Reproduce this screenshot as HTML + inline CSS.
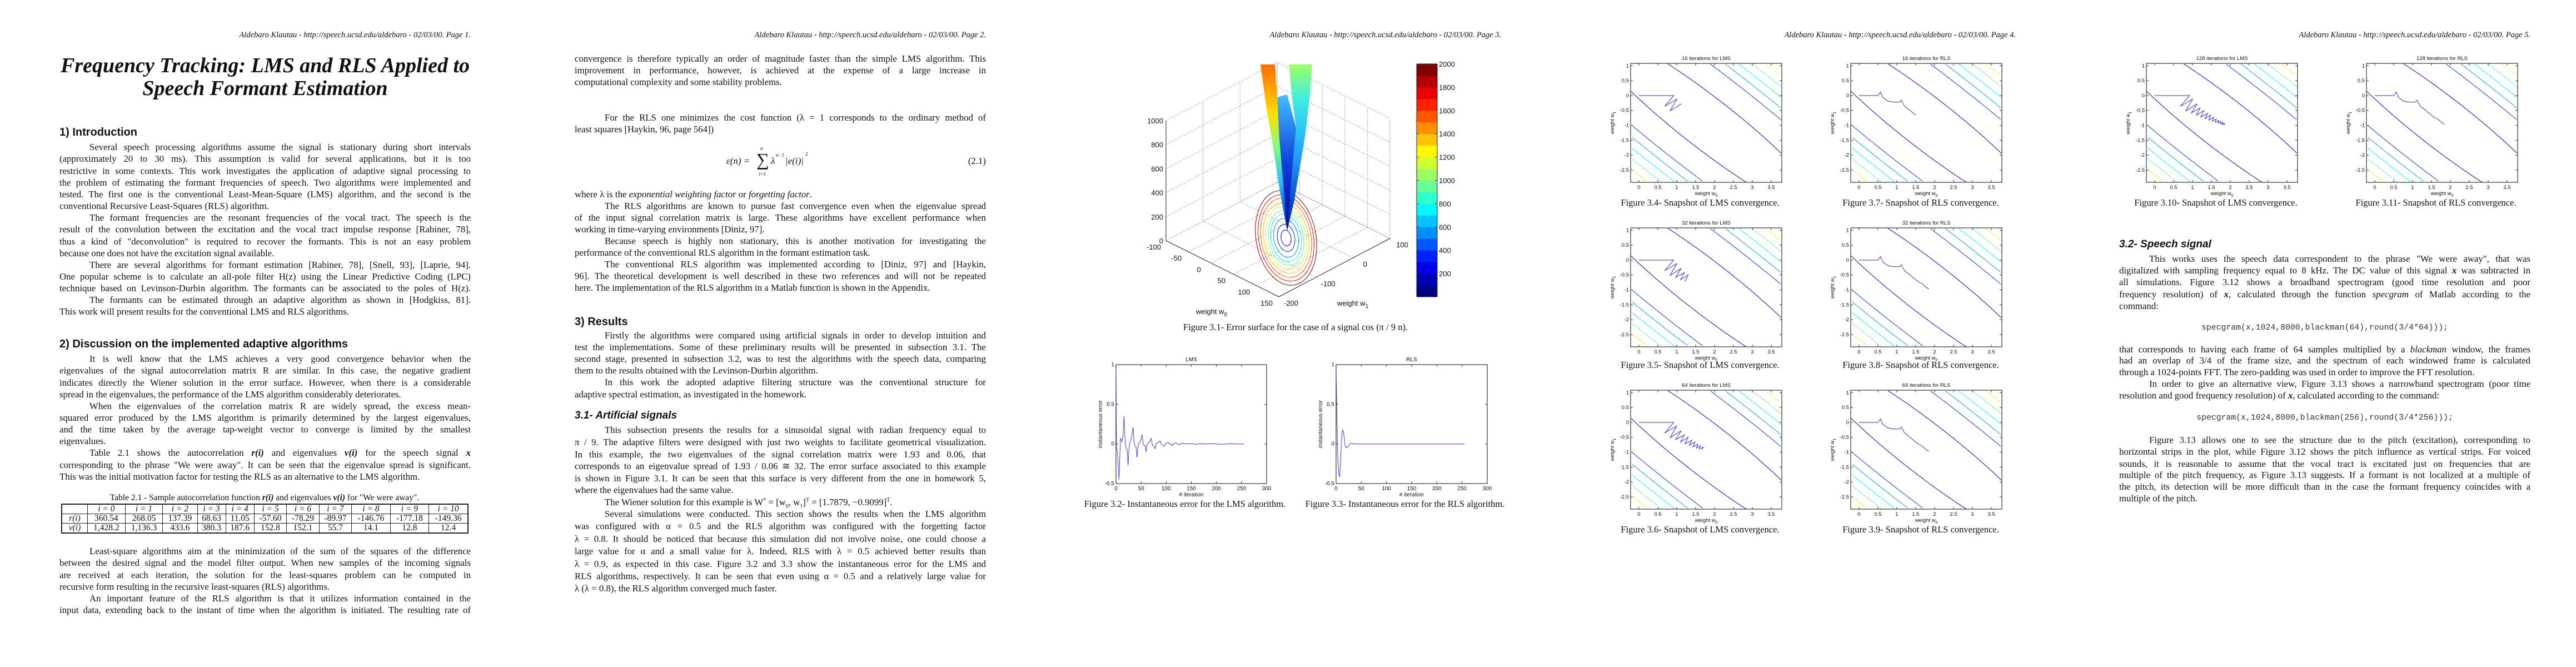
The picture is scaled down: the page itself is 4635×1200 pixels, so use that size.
<!DOCTYPE html>
<html><head><meta charset="utf-8">
<style>
html,body{margin:0;padding:0;background:#fff;width:4635px;height:1200px;overflow:hidden;}
#root{position:relative;width:4635px;height:1200px;overflow:hidden;background:#fff;color:#111;}
.pg{position:absolute;top:0;width:927px;height:1200px;overflow:hidden;}
.l{position:absolute;left:107px;width:740px;height:21px;line-height:21px;font-family:"Liberation Serif",serif;font-size:16.8px;white-space:nowrap;text-align:justify;text-align-last:justify;}
.i{left:161px;width:686px;}
.e{text-align-last:left;}
.h{position:absolute;left:107px;font-family:"Liberation Sans",sans-serif;font-weight:bold;font-size:20px;line-height:24px;white-space:nowrap;}
.hi{font-style:italic;font-size:19px;}
.hdr{position:absolute;right:80px;top:54px;font-family:"Liberation Serif",serif;font-style:italic;font-size:14.5px;line-height:18px;white-space:nowrap;}
.cap{position:absolute;font-family:"Liberation Serif",serif;font-size:16.5px;line-height:20px;white-space:nowrap;transform:translateX(-50%);}
.code{position:absolute;font-family:"Liberation Mono",monospace;font-size:14.8px;line-height:20px;white-space:nowrap;transform:translateX(-50%);color:#333;}
table.t{position:absolute;left:110px;top:906px;width:733px;border-collapse:collapse;font-family:"Liberation Serif",serif;font-size:15.5px;border:2px solid #222;}
table.t td{border:1px solid #222;height:16px;line-height:16px;padding:0;text-align:center;}
sup,sub{font-size:10px;line-height:0;}
#gfx{position:absolute;left:0;top:0;overflow:hidden;}
</style></head>
<body>
<div id="root">

<!-- PAGE 1 -->
<div class="pg" style="left:0">
<div class="hdr">Aldebaro Klautau - http://speech.ucsd.edu/aldebaro - 02/03/00. Page 1.</div>
<div style="position:absolute;left:107px;width:740px;top:98px;text-align:center;font-family:'Liberation Serif',serif;font-style:italic;font-weight:bold;font-size:38px;line-height:41px;">Frequency Tracking: LMS and RLS Applied to<br>Speech Formant Estimation</div>
<div class="h" style="top:226px">1) Introduction</div>
<div class="l i" style="top:254px">Several speech processing algorithms assume the signal is stationary during short intervals</div>
<div class="l" style="top:275px">(approximately 20 to 30 ms). This assumption is valid for several applications, but it is too</div>
<div class="l" style="top:297px">restrictive in some contexts. This work investigates the application of adaptive signal processing to</div>
<div class="l" style="top:318px">the problem of estimating the formant frequencies of speech. Two algorithms were implemented and</div>
<div class="l" style="top:339px">tested. The first one is the conventional Least-Mean-Square (LMS) algorithm, and the second is the</div>
<div class="l e" style="top:360px">conventional Recursive Least-Squares (RLS) algorithm.</div>
<div class="l i" style="top:381px">The formant frequencies are the resonant frequencies of the vocal tract. The speech is the</div>
<div class="l" style="top:402px">result of the convolution between the excitation and the vocal tract impulse response [Rabiner, 78],</div>
<div class="l" style="top:424px">thus a kind of "deconvolution" is required to recover the formants. This is not an easy problem</div>
<div class="l e" style="top:445px">because one does not have the excitation signal available.</div>
<div class="l i" style="top:466px">There are several algorithms for formant estimation [Rabiner, 78], [Snell, 93], [Laprie, 94].</div>
<div class="l" style="top:487px">One popular scheme is to calculate an all-pole filter H(z) using the Linear Predictive Coding (LPC)</div>
<div class="l" style="top:508px">technique based on Levinson-Durbin algorithm. The formants can be associated to the poles of H(z).</div>
<div class="l i" style="top:529px">The formants can be estimated through an adaptive algorithm as shown in [Hodgkiss, 81].</div>
<div class="l e" style="top:550px">This work will present results for the conventional LMS and RLS algorithms.</div>

<div class="h" style="top:607px">2) Discussion on the implemented adaptive algorithms</div>
<div class="l i" style="top:635px">It is well know that the LMS achieves a very good convergence behavior when the</div>
<div class="l" style="top:656px">eigenvalues of the signal autocorrelation matrix R are similar. In this case, the negative gradient</div>
<div class="l" style="top:678px">indicates directly the Wiener solution in the error surface. However, when there is a considerable</div>
<div class="l e" style="top:699px">spread in the eigenvalues, the performance of the LMS algorithm considerably deteriorates.</div>
<div class="l i" style="top:720px">When the eigenvalues of the correlation matrix R are widely spread, the excess mean-</div>
<div class="l" style="top:741px">squared error produced by the LMS algorithm is primarily determined by the largest eigenvalues,</div>
<div class="l" style="top:762px">and the time taken by the average tap-weight vector to converge is limited by the smallest</div>
<div class="l e" style="top:783px">eigenvalues.</div>
<div class="l i" style="top:804px">Table 2.1 shows the autocorrelation <b><i>r(i)</i></b> and eigenvalues <b><i>v(i)</i></b> for the speech signal <b><i>x</i></b></div>
<div class="l" style="top:826px">corresponding to the phrase "We were away". It can be seen that the eigenvalue spread is significant.</div>
<div class="l e" style="top:847px">This was the initial motivation factor for testing the RLS as an alternative to the LMS algorithm.</div>

<div class="cap" style="left:476px;top:886px;font-size:15.5px">Table 2.1 - Sample autocorrelation function <b><i>r(i)</i></b> and eigenvalues <b><i>v(i)</i></b> for "We were away".</div>
<table class="t">
<tr style="font-style:italic"><td style="width:45px"></td><td>i = 0</td><td>i = 1</td><td>i = 2</td><td>i = 3</td><td>i = 4</td><td>i = 5</td><td>i = 6</td><td>i = 7</td><td>i = 8</td><td>i = 9</td><td>i = 10</td></tr>
<tr><td><i>r(i)</i></td><td>360.54</td><td>268.05</td><td>137.39</td><td>68.63</td><td>11.05</td><td>-57.60</td><td>-78.29</td><td>-89.97</td><td>-146.76</td><td>-177.18</td><td>-149.36</td></tr>
<tr><td><i>v(i)</i></td><td>1,428.2</td><td>1,136.3</td><td>433.6</td><td>380.3</td><td>187.6</td><td>152.8</td><td>152.1</td><td>55.7</td><td>14.1</td><td>12.8</td><td>12.4</td></tr>
</table>

<div class="l i" style="top:981px">Least-square algorithms aim at the minimization of the sum of the squares of the difference</div>
<div class="l" style="top:1002px">between the desired signal and the model filter output. When new samples of the incoming signals</div>
<div class="l" style="top:1024px">are received at each iteration, the solution for the least-squares problem can be computed in</div>
<div class="l e" style="top:1045px">recursive form resulting in the recursive least-squares (RLS) algorithms.</div>
<div class="l i" style="top:1066px">An important feature of the RLS algorithm is that it utilizes information contained in the</div>
<div class="l" style="top:1087px">input data, extending back to the instant of time when the algorithm is initiated. The resulting rate of</div>
</div>

<!-- PAGE 2 -->
<div class="pg" style="left:927px">
<div class="hdr">Aldebaro Klautau - http://speech.ucsd.edu/aldebaro - 02/03/00. Page 2.</div>
<div class="l" style="top:95px">convergence is therefore typically an order of magnitude faster than the simple LMS algorithm. This</div>
<div class="l" style="top:116px">improvement in performance, however, is achieved at the expense of a large increase in</div>
<div class="l e" style="top:137px">computational complexity and some stability problems.</div>
<div class="l i" style="top:201px">For the RLS one minimizes the cost function (λ = 1 corresponds to the ordinary method of</div>
<div class="l e" style="top:222px">least squares [Haykin, 96, page 564])</div>
<div style="position:absolute;left:380px;top:268px;width:160px;height:50px;font-family:'Liberation Serif',serif;font-size:17px;">
<span style="position:absolute;left:0;top:12px;font-style:italic">ε(n) =</span>
<span style="position:absolute;left:54px;top:2px;font-size:32px;line-height:34px">∑</span>
<span style="position:absolute;left:61px;top:-6px;font-size:9px;font-style:italic">n</span>
<span style="position:absolute;left:58px;top:40px;font-size:9px;font-style:italic">i=1</span>
<span style="position:absolute;left:80px;top:12px;font-style:italic">λ</span>
<span style="position:absolute;left:89px;top:6px;font-size:9px;font-style:italic">n−1</span>
<span style="position:absolute;left:106px;top:12px;font-style:italic">|e(i)|</span>
<span style="position:absolute;left:142px;top:4px;font-size:9px">2</span>
</div>
<div class="l e" style="top:279px;text-align:right;text-align-last:right">(2.1)</div>
<div class="l e" style="top:339px">where λ is the <i>exponential weighting factor</i> or <i>forgetting factor</i>.</div>
<div class="l i" style="top:360px">The RLS algorithms are known to pursue fast convergence even when the eigenvalue spread</div>
<div class="l" style="top:381px">of the input signal correlation matrix is large. These algorithms have excellent performance when</div>
<div class="l e" style="top:402px">working in time-varying environments [Diniz, 97].</div>
<div class="l i" style="top:423px">Because speech is highly non stationary, this is another motivation for investigating the</div>
<div class="l e" style="top:444px">performance of the conventional RLS algorithm in the formant estimation task.</div>
<div class="l i" style="top:465px">The conventional RLS algorithm was implemented according to [Diniz, 97] and [Haykin,</div>
<div class="l" style="top:486px">96]. The theoretical development is well described in these two references and will not be repeated</div>
<div class="l e" style="top:507px">here. The implementation of the RLS algorithm in a Matlab function is shown in the Appendix.</div>
<div class="h" style="top:567px">3) Results</div>
<div class="l i" style="top:593px">Firstly the algorithms were compared using artificial signals in order to develop intuition and</div>
<div class="l" style="top:614px">test the implementations. Some of these preliminary results will be presented in subsection 3.1. The</div>
<div class="l" style="top:635px">second stage, presented in subsection 3.2, was to test the algorithms with the speech data, comparing</div>
<div class="l e" style="top:656px">them to the results obtained with the Levinson-Durbin algorithm.</div>
<div class="l i" style="top:677px">In this work the adopted adaptive filtering structure was the conventional structure for</div>
<div class="l e" style="top:699px">adaptive spectral estimation, as investigated in the homework.</div>
<div class="h hi" style="top:736px">3.1- Artificial signals</div>
<div class="l i" style="top:763px">This subsection presents the results for a sinusoidal signal with radian frequency equal to</div>
<div class="l" style="top:785px">π / 9. The adaptive filters were designed with just two weights to facilitate geometrical visualization.</div>
<div class="l" style="top:807px">In this example, the two eigenvalues of the signal correlation matrix were 1.93 and 0.06, that</div>
<div class="l" style="top:828px">corresponds to an eigenvalue spread of 1.93 / 0.06 ≅ 32. The error surface associated to this example</div>
<div class="l" style="top:850px">is shown in Figure 3.1. It can be seen that this surface is very different from the one in homework 5,</div>
<div class="l e" style="top:871px">where the eigenvalues had the same value.</div>
<div class="l i e" style="top:893px">The Wiener solution for this example is W<sup>*</sup> = [w<sub>0</sub>, w<sub>1</sub>]<sup>T</sup> = [1.7879, −0.9099]<sup>T</sup>.</div>
<div class="l i" style="top:914px">Several simulations were conducted. This section shows the results when the LMS algorithm</div>
<div class="l" style="top:936px">was configured with α = 0.5 and the RLS algorithm was configured with the forgetting factor</div>
<div class="l" style="top:959px">λ = 0.8. It should be noticed that because this simulation did not involve noise, one could choose a</div>
<div class="l" style="top:981px">large value for α and a small value for λ. Indeed, RLS with λ = 0.5 achieved better results than</div>
<div class="l" style="top:1004px">λ = 0.9, as expected in this case. Figure 3.2 and 3.3 show the instantaneous error for the LMS and</div>
<div class="l" style="top:1026px">RLS algorithms, respectively. It can be seen that even using α = 0.5 and a relatively large value for</div>
<div class="l e" style="top:1048px">λ (λ = 0.8), the RLS algorithm converged much faster.</div>
</div>

<!-- PAGE 3 -->
<div class="pg" style="left:1854px">
<div class="hdr">Aldebaro Klautau - http://speech.ucsd.edu/aldebaro - 02/03/00. Page 3.</div>
<div class="cap" style="left:477px;top:579px">Figure 3.1- Error surface for the case of a signal cos (π / 9 n).</div>
<div class="cap" style="left:278px;top:897px">Figure 3.2- Instantaneous error for the LMS algorithm.</div>
<div class="cap" style="left:674px;top:897px">Figure 3.3- Instantaneous error for the RLS algorithm.</div>
</div>

<!-- PAGE 4 -->
<div class="pg" style="left:2780px">
<div class="hdr">Aldebaro Klautau - http://speech.ucsd.edu/aldebaro - 02/03/00. Page 4.</div>
<div class="cap" style="left:279px;top:355px">Figure 3.4- Snapshot of LMS convergence.</div>
<div class="cap" style="left:676px;top:355px">Figure 3.7- Snapshot of RLS convergence.</div>
<div class="cap" style="left:279px;top:647px">Figure 3.5- Snapshot of LMS convergence.</div>
<div class="cap" style="left:676px;top:647px">Figure 3.8- Snapshot of RLS convergence.</div>
<div class="cap" style="left:279px;top:943px">Figure 3.6- Snapshot of LMS convergence.</div>
<div class="cap" style="left:676px;top:943px">Figure 3.9- Snapshot of RLS convergence.</div>
</div>

<!-- PAGE 5 -->
<div class="pg" style="left:3706px">
<div class="hdr">Aldebaro Klautau - http://speech.ucsd.edu/aldebaro - 02/03/00. Page 5.</div>
<div class="cap" style="left:281px;top:355px">Figure 3.10- Snapshot of LMS convergence.</div>
<div class="cap" style="left:677px;top:355px">Figure 3.11- Snapshot of RLS convergence.</div>
<div class="h hi" style="top:428px">3.2- Speech signal</div>
<div class="l i" style="top:455px">This works uses the speech data correspondent to the phrase "We were away", that was</div>
<div class="l" style="top:476px">digitalized with sampling frequency equal to 8 kHz. The DC value of this signal <b><i>x</i></b> was subtracted in</div>
<div class="l" style="top:497px">all simulations. Figure 3.12 shows a broadband spectrogram (good time resolution and poor</div>
<div class="l" style="top:519px">frequency resolution) of <b><i>x</i></b>, calculated through the function <i>specgram</i> of Matlab according to the</div>
<div class="l e" style="top:540px">command:</div>
<div class="code" style="left:477px;top:580px">specgram(x,1024,8000,blackman(64),round(3/4*64)));</div>
<div class="l" style="top:618px">that corresponds to having each frame of 64 samples multiplied by a <i>blackman</i> window, the frames</div>
<div class="l" style="top:638px">had an overlap of 3/4 of the frame size, and the spectrum of each windowed frame is calculated</div>
<div class="l e" style="top:659px">through a 1024-points FFT. The zero-padding was used in order to improve the FFT resolution.</div>
<div class="l i" style="top:680px">In order to give an alternative view, Figure 3.13 shows a narrowband spectrogram (poor time</div>
<div class="l e" style="top:701px">resolution and good frequency resolution) of <b><i>x</i></b>, calculated according to the command:</div>
<div class="code" style="left:477px;top:742px">specgram(x,1024,8000,blackman(256),round(3/4*256)));</div>
<div class="l i" style="top:781px">Figure 3.13 allows one to see the structure due to the pitch (excitation), corresponding to</div>
<div class="l" style="top:802px">horizontal strips in the plot, while Figure 3.12 shows the pitch influence as vertical strips. For voiced</div>
<div class="l" style="top:824px">sounds, it is reasonable to assume that the vocal tract is excitated just on frequencies that are</div>
<div class="l" style="top:844px">multiple of the pitch frequency, as Figure 3.13 suggests. If a formant is not localized at a multiple of</div>
<div class="l" style="top:865px">the pitch, its detection will be more difficult than in the case the formant frequency coincides with a</div>
<div class="l e" style="top:886px">multiple of the pitch.</div>
</div>

<svg id="gfx" width="4635" height="1200" xmlns="http://www.w3.org/2000/svg"></svg>
</div>

<script>
// ---- Data: instantaneous error (Fig 3.2 / 3.3) ----
const lmsIter = [0,1,3,6,9,10,12,14,16,18,20,22,24,26,28,30,34,36,38,40,42,44,46,48,52,54,56,58,60,62,64,66,70,72,74,76,78,80,84,88,90,93,96,100,104,108,112,116,120,126,132,140,150,160,170,180,190,200,210,220,230,240,255];
const lmsErr = [0.95,-0.05,-0.1,-0.45,0.07,0.06,0.03,0.1,0.35,0.05,-0.05,-0.06,-0.27,-0.05,0.03,0.05,0.21,0.02,-0.03,-0.04,-0.17,-0.02,0.01,0.02,0.12,0.0,-0.02,-0.02,-0.1,0.0,0.01,0.02,0.07,0.0,-0.02,-0.03,-0.06,0.0,0.02,0.04,0.0,-0.02,-0.03,0.01,0.02,0.0,-0.02,0.01,0.01,-0.01,0.01,0.0,0.005,-0.005,0.005,0,0.005,0,-0.005,0,0.005,0,0];
const rlsIter = [0,1,3,5,7,9,11,13,15,17,19,21,24,27,30,35,40,255];
const rlsErr = [0.95,0.6,-0.1,-0.35,-0.42,-0.2,0.1,0.18,0.14,0.02,-0.04,-0.05,-0.03,0.0,0.01,0.0,0.0,0.0];
const errXTicks = [0,50,100,150,200,250,300];
const errYTicks = [-0.5,0,0.5,1];

// ---- Data: weight trajectories (Fig 3.4 - 3.11) ----
const lmsW0 = [0,0.46,0.92,0.68,1.0,0.82,1.12,0.97,1.2,1.1,1.3,1.22,1.4,1.33,1.48,1.43,1.56,1.52,1.63,1.6,1.7,1.67,1.75,1.73,1.8,1.78,1.84,1.82,1.87];
const lmsW1 = [0,0,0,-0.36,-0.12,-0.52,-0.28,-0.58,-0.42,-0.66,-0.5,-0.72,-0.6,-0.77,-0.66,-0.82,-0.73,-0.86,-0.78,-0.89,-0.83,-0.92,-0.87,-0.94,-0.9,-0.96,-0.93,-0.97,-0.97];
const rlsW0 = [0,0.5,0.57,0.62,0.75,0.9,1.08,1.12,1.2,1.35,1.5,1.6,1.68,1.72,1.78,1.85];
const rlsW1 = [0,0,0.12,-0.05,-0.18,-0.22,-0.22,-0.15,-0.35,-0.5,-0.66,-0.75,-0.8,-0.85,-0.92,-0.97];
const snapIters = [16,32,64,128];
const lmsShown = [7,12,22,29];
const rlsShown = [11,16,16,16];
const wienerW = [1.7879,-0.9099];
const eigVals = [1.93,0.06];
const contourOffsets = [0.77,1.48,1.75,2.0,2.25,2.5,2.75,3.0,3.25,3.5];
const wXTicks = [0,0.5,1,1.5,2,2.5,3,3.5];
const wYTicks = [1,0.5,0,-0.5,-1,-1.5,-2,-2.5];

// ---- Data: 3D surface figure ----
const zTicks = [0,200,400,600,800,1000];
const cbTicks = [200,400,600,800,1000,1200,1400,1600,1800,2000];
const w0Ticks = [-100,-50,0,50,100,150];
const w1Ticks = [-200,-100,0,100];
const baseLevels = [50,150,300,450,600,800,1000,1250,1500,1800];

const NS = 'http://www.w3.org/2000/svg';
const svg = document.getElementById('gfx');
const PAGE_X = [0,927,1854,2780,3706];
function mk(tag, parent){ const e = document.createElementNS(NS, tag); parent.appendChild(e); return e; }
function jet(t){
  t = Math.max(0, Math.min(1, t));
  const r = Math.max(0, Math.min(1, 1.5 - Math.abs(4*t - 3)));
  const g = Math.max(0, Math.min(1, 1.5 - Math.abs(4*t - 2)));
  const b = Math.max(0, Math.min(1, 1.5 - Math.abs(4*t - 1)));
  return 'rgb(' + Math.round(r*255) + ',' + Math.round(g*255) + ',' + Math.round(b*255) + ')';
}
function txt(parent, x, y, s, size, anchor){
  const t = mk('text', parent);
  t.setAttribute('x', x); t.setAttribute('y', y);
  t.setAttribute('font-family', 'Liberation Sans, sans-serif');
  t.setAttribute('font-size', size); t.setAttribute('text-anchor', anchor || 'middle');
  t.setAttribute('fill', '#111');
  t.textContent = s;
  return t;
}
function axesBox(g, box){
  const r = mk('rect', g);
  
  
  r.setAttribute('x', box.l); r.setAttribute('y', box.t);
  r.setAttribute('width', box.r - box.l); r.setAttribute('height', box.b - box.t);
  r.setAttribute('fill', 'none'); r.setAttribute('stroke', '#333'); r.setAttribute('stroke-width', '1.2');
}
function tick(g, x1, y1, x2, y2){
  const l = mk('line', g);
  l.setAttribute('x1', x1); l.setAttribute('y1', y1); l.setAttribute('x2', x2); l.setAttribute('y2', y2);
  l.setAttribute('stroke', '#333'); l.setAttribute('stroke-width', '1');
}

// ---- Error plot ----
function errorPlot(page, box, xs, ys, title, name){
  const g = mk('g', svg);
  
  
  g.setAttribute('transform', 'translate(' + PAGE_X[page] + ',0)');
  const sx = v => box.l + (v - 0) / 300 * (box.r - box.l);
  const sy = v => box.b - (v + 0.5) / 1.5 * (box.b - box.t);
  axesBox(g, box);
  errXTicks.forEach(v => {
    tick(g, sx(v), box.b, sx(v), box.b - 4); tick(g, sx(v), box.t, sx(v), box.t + 4);
    const t = txt(g, sx(v), box.b + 12, String(v), 10);
    
    
  });
  errYTicks.forEach(v => {
    tick(g, box.l, sy(v), box.l + 4, sy(v)); tick(g, box.r, sy(v), box.r - 4, sy(v));
    const t = txt(g, box.l - 3, sy(v) + 3, String(v), 10, 'end');
    
    
  });
  const tt = txt(g, (box.l + box.r) / 2, box.t - 6, title, 10);
  
  
  const xl = txt(g, (box.l + box.r) / 2, box.b + 23, '# iteration', 10);
  
  
  const yl = txt(g, 0, 0, 'instantaneous error', 10);
  
  
  yl.setAttribute('transform', 'translate(' + (box.l - 25) + ',' + ((box.t + box.b) / 2) + ') rotate(-90)');
  const n = Math.min(xs.length, ys.length);
  let d = '';
  for (let i = 0; i < n; i++) d += (i ? 'L' : 'M') + sx(xs[i]).toFixed(1) + ',' + sy(ys[i]).toFixed(1);
  const p = mk('path', g);
  
  
  p.setAttribute('d', d); p.setAttribute('fill', 'none'); p.setAttribute('stroke', '#3a3ae0'); p.setAttribute('stroke-width', '1');
}
errorPlot(2, {l:154, t:656, r:425, b:870}, lmsIter, lmsErr, 'LMS', 'lms-error-chart');
errorPlot(2, {l:550, t:656, r:822, b:870}, rlsIter, rlsErr, 'RLS', 'rls-error-chart');

// ---- Contour / trajectory plot ----
function contourPlot(page, box, w0, w1, count, title, name){
  const g = mk('g', svg);
  
  
  g.setAttribute('transform', 'translate(' + PAGE_X[page] + ',0)');
  const X0 = -0.22, X1 = 3.78, Y0 = -2.91, Y1 = 1.08;
  const sx = v => box.l + (v - X0) / (X1 - X0) * (box.r - box.l);
  const sy = v => box.b - (v - Y0) / (Y1 - Y0) * (box.b - box.t);
  const ratio = Math.sqrt(eigVals[0] / eigVals[1]);
  contourOffsets.forEach((u, k) => {
    let d = '', pen = false;
    for (let s = 0; s <= 720; s++) {
      const th = s / 720 * 2 * Math.PI;
      const a = u * Math.cos(th), b = u * ratio * Math.sin(th);
      const x = wienerW[0] + (a + b) / Math.SQRT2;
      const y = wienerW[1] + (a - b) / Math.SQRT2;
      if (x >= X0 && x <= X1 && y >= Y0 && y <= Y1) {
        d += (pen ? 'L' : 'M') + sx(x).toFixed(1) + ',' + sy(y).toFixed(1);
        pen = true;
      } else pen = false;
    }
    if (!d) return;
    const p = mk('path', g);
    
    
    p.setAttribute('d', d); p.setAttribute('fill', 'none');
    p.setAttribute('stroke', jet(0.08 + 0.92 * k / (contourOffsets.length - 1))); p.setAttribute('stroke-width', '1');
  });
  const n = Math.min(count, w0.length, w1.length);
  let d = '';
  for (let i = 0; i < n; i++) d += (i ? 'L' : 'M') + sx(w0[i]).toFixed(1) + ',' + sy(w1[i]).toFixed(1);
  const tr = mk('path', g);
  
  
  tr.setAttribute('d', d); tr.setAttribute('fill', 'none'); tr.setAttribute('stroke', '#4040d8'); tr.setAttribute('stroke-width', '1.1');
  axesBox(g, box);
  wXTicks.forEach(v => {
    tick(g, sx(v), box.b, sx(v), box.b - 4); tick(g, sx(v), box.t, sx(v), box.t + 4);
    const t = txt(g, sx(v), box.b + 12, String(v), 9.5);
    
    
  });
  wYTicks.forEach(v => {
    tick(g, box.l, sy(v), box.l + 4, sy(v)); tick(g, box.r, sy(v), box.r - 4, sy(v));
    const t = txt(g, box.l - 3, sy(v) + 3, String(v), 9.5, 'end');
    
    
  });
  const tt = txt(g, (box.l + box.r) / 2, box.t - 6, title, 9.5);
  
  
  const xl = txt(g, (box.l + box.r) / 2, box.b + 23, 'weight w', 9.5);
  
  
  const xs = mk('tspan', xl); xs.setAttribute('font-size', '7'); xs.setAttribute('dy', '3'); xs.textContent = '0';
  const yl = txt(g, 0, 0, 'weight w', 9.5);
  
  
  const ys = mk('tspan', yl); ys.setAttribute('font-size', '7'); ys.setAttribute('dy', '3'); ys.textContent = '1';
  yl.setAttribute('transform', 'translate(' + (box.l - 30) + ',' + ((box.t + box.b) / 2) + ') rotate(-90)');
}
const rowTops = [114, 410, 702];
for (let r = 0; r < 3; r++) {
  contourPlot(3, {l:154, t:rowTops[r], r:426, b:rowTops[r] + 214}, lmsW0, lmsW1, lmsShown[r], snapIters[r] + ' iterations for LMS', 'lms-snapshot-' + snapIters[r]);
  contourPlot(3, {l:550, t:rowTops[r], r:822, b:rowTops[r] + 214}, rlsW0, rlsW1, rlsShown[r], snapIters[r] + ' iterations for RLS', 'rls-snapshot-' + snapIters[r]);
}
contourPlot(4, {l:156, t:114, r:428, b:328}, lmsW0, lmsW1, lmsShown[3], snapIters[3] + ' iterations for LMS', 'lms-snapshot-128');
contourPlot(4, {l:552, t:114, r:824, b:328}, rlsW0, rlsW1, rlsShown[3], snapIters[3] + ' iterations for RLS', 'rls-snapshot-128');

// ---- 3D error surface (Fig 3.1) ----
(function(){
  const g = mk('g', svg);
  
  
  g.setAttribute('transform', 'translate(' + PAGE_X[2] + ',0)');
  const L = [244,433], F = [447,534], R = [647,429], B = [L[0] + R[0] - F[0], L[1] + R[1] - F[1]];
  const zpx = v => v / 1000 * 216;
  function seg(a, b, dash, name){
    const l = mk('line', g);
    
    
    l.setAttribute('x1', a[0]); l.setAttribute('y1', a[1]); l.setAttribute('x2', b[0]); l.setAttribute('y2', b[1]);
    l.setAttribute('stroke', '#222'); l.setAttribute('stroke-width', dash ? '0.8' : '1');
    if (dash) l.setAttribute('stroke-dasharray', '1,3');
  }
  zTicks.forEach(v => {
    const h = zpx(v);
    seg([L[0], L[1] - h], [B[0], B[1] - h], true, 'grid-line');
    seg([B[0], B[1] - h], [R[0], R[1] - h], true, 'grid-line');
  });
  seg([B[0], B[1]], [B[0], B[1] - zpx(1000)], true, 'grid-line');
  seg([R[0], R[1]], [R[0], R[1] - zpx(1000)], true, 'grid-line');
  w0Ticks.forEach(v => {
    const t = (v + 100) / 250, p = [L[0] + t * (F[0] - L[0]), L[1] + t * (F[1] - L[1])];
    seg(p, [p[0] + (B[0] - L[0]), p[1] + (B[1] - L[1])], true, 'grid-line');
    seg([p[0] + (B[0] - L[0]), p[1] + (B[1] - L[1])], [p[0] + (B[0] - L[0]), p[1] + (B[1] - L[1]) - zpx(1000)], true, 'grid-line');
    const lb = txt(g, p[0] - 22, p[1] + 16, String(v), 13);
    
    
  });
  w1Ticks.forEach(v => {
    const t = (v + 200) / 300, p = [F[0] + t * (R[0] - F[0]), F[1] + t * (R[1] - F[1])];
    seg(p, [p[0] + (L[0] - F[0]), p[1] + (L[1] - F[1])], true, 'grid-line');
    seg([p[0] + (L[0] - F[0]), p[1] + (L[1] - F[1])], [p[0] + (L[0] - F[0]), p[1] + (L[1] - F[1]) - zpx(1000)], true, 'grid-line');
    const lb = txt(g, p[0] + 22, p[1] + 16, String(v), 13);
    
    
  });
  seg(L, F, false, 'w0-axis'); seg(F, R, false, 'w1-axis'); seg(L, [L[0], L[1] - zpx(1000)], false, 'z-axis');
  zTicks.forEach(v => {
    const lb = txt(g, L[0] - 5, L[1] - zpx(v) + 5, String(v), 13, 'end');
    
    
  });
  const a0 = txt(g, 326, 565, 'weight w', 13);
  
  
  const s0 = mk('tspan', a0); s0.setAttribute('font-size', '10'); s0.setAttribute('dy', '4'); s0.textContent = '0';
  const a1 = txt(g, 580, 550, 'weight w', 13);
  
  
  const s1 = mk('tspan', a1); s1.setAttribute('font-size', '10'); s1.setAttribute('dy', '4'); s1.textContent = '1';
  baseLevels.forEach((lv, k) => {
    const s = Math.sqrt(lv / 1800);
    const e = mk('ellipse', g);
    
    
    e.setAttribute('cx', 460); e.setAttribute('cy', 428);
    e.setAttribute('rx', (54 * s).toFixed(1)); e.setAttribute('ry', (86 * s).toFixed(1));
    e.setAttribute('transform', 'rotate(-10 460 428)');
    e.setAttribute('fill', 'none'); e.setAttribute('stroke', jet(0.05 + 0.95 * k / (baseLevels.length - 1))); e.setAttribute('stroke-width', '1');
  });
  const defs = mk('defs', g);
  function grad(id, stops){
    const lg = mk('linearGradient', defs);
    lg.setAttribute('id', id); lg.setAttribute('x1', '0'); lg.setAttribute('y1', '0'); lg.setAttribute('x2', '0'); lg.setAttribute('y2', '1');
    stops.forEach(s => { const st = mk('stop', lg); st.setAttribute('offset', s[0]); st.setAttribute('stop-color', s[1]); });
  }
  grad('gl', [[0,'#ff6a00'],[0.3,'#ffe000'],[0.5,'#7fff7f'],[0.7,'#20c0ff'],[1,'#0020c0']]);
  grad('gr', [[0,'#a0ff60'],[0.2,'#40f0e0'],[0.55,'#20a0ff'],[1,'#0010a0']]);
  grad('gc', [[0,'#40c0ff'],[0.5,'#1040e0'],[1,'#000090']]);
  function poly(pts, fill, name){
    const p = mk('polygon', g);
    
    
    p.setAttribute('points', pts); p.setAttribute('fill', fill);
  }
  poly('414,116 440,116 444,175 452,240 462,300 468,360 462,415 450,350 436,260 424,190', 'url(#gl)', 'surface-left-arm');
  poly('465,116 507,116 503,170 495,240 485,300 475,360 462,415 470,320 478,230 470,170', 'url(#gr)', 'surface-right-arm');
  poly('444,175 462,170 478,230 470,320 462,415 455,330 448,250', 'url(#gc)', 'surface-center');
  const cbTop = 115, cbBot = 534, nb = 20;
  for (let k = 0; k < nb; k++) {
    const r = mk('rect', g);
    
    
    const y0 = cbBot - (k + 1) / nb * (cbBot - cbTop);
    r.setAttribute('x', 695); r.setAttribute('y', y0.toFixed(1)); r.setAttribute('width', 37); r.setAttribute('height', ((cbBot - cbTop) / nb + 0.5).toFixed(1));
    r.setAttribute('fill', jet(k / (nb - 1)));
  }
  const cbf = mk('rect', g);
  
  
  cbf.setAttribute('x', 695); cbf.setAttribute('y', cbTop); cbf.setAttribute('width', 37); cbf.setAttribute('height', cbBot - cbTop);
  cbf.setAttribute('fill', 'none'); cbf.setAttribute('stroke', '#222');
  cbTicks.forEach(v => {
    const y = cbBot - v / 2000 * (cbBot - cbTop);
    tick(g, 728, y, 732, y); tick(g, 695, y, 699, y);
    const lb = txt(g, 735, y + 5, String(v), 13, 'start');
    
    
  });
})();
</script>
</body></html>
